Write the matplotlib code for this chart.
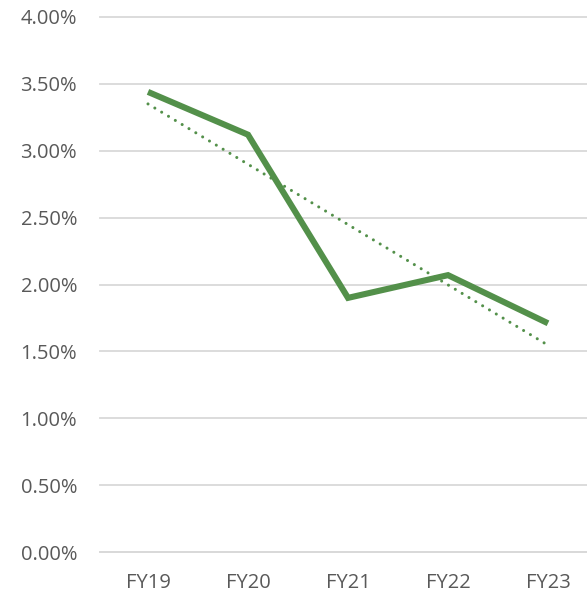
import matplotlib
matplotlib.use("Agg")
import matplotlib.pyplot as plt
import numpy as np
from matplotlib.ticker import FuncFormatter, MultipleLocator

categories = ["FY19", "FY20", "FY21", "FY22", "FY23"]
values = [0.0344, 0.0312, 0.0190, 0.0207, 0.0171]

W, H = 587, 594
fig = plt.figure(figsize=(W / 100, H / 100), dpi=100)
ax = fig.add_axes([100 / W, (H - 552) / H, (587 - 100) / W, (552 - 17) / H])

x = np.arange(len(categories))
green = "#53904A"
ax.plot(x, values, color=green, lw=4.4, solid_capstyle="butt", solid_joinstyle="miter", zorder=3)

coef = np.polyfit(x, values, 1)
trend = np.polyval(coef, x)
ax.plot(x, trend, color=green, lw=2.2, linestyle=(0, (0.01, 2.6)), dash_capstyle="round", zorder=2)

ax.set_xlim(-0.48, 4.39)
ax.set_ylim(0, 0.04)
ax.yaxis.set_major_locator(MultipleLocator(0.005))
ax.yaxis.set_major_formatter(FuncFormatter(lambda v, p: f"{v*100:.2f}%"))
ax.set_xticks(x)
ax.set_xticklabels(categories)

for s in ["top", "right", "left"]:
    ax.spines[s].set_visible(False)
ax.spines["bottom"].set_color("#D9D9D9")
ax.spines["bottom"].set_linewidth(1.3)
ax.grid(axis="y", color="#D9D9D9", lw=1.3, zorder=0)
for gl in ax.get_ygridlines():
    gl.set_clip_on(False)
ax.set_axisbelow(True)
ax.tick_params(axis="both", length=0, labelsize=14.5, labelcolor="#595959")
ax.tick_params(axis="y", pad=16.5)
ax.tick_params(axis="x", pad=15)
for t in ax.get_xticklabels() + ax.get_yticklabels():
    t.set_family("Open Sans")

fig.savefig("out.png", dpi=100)
